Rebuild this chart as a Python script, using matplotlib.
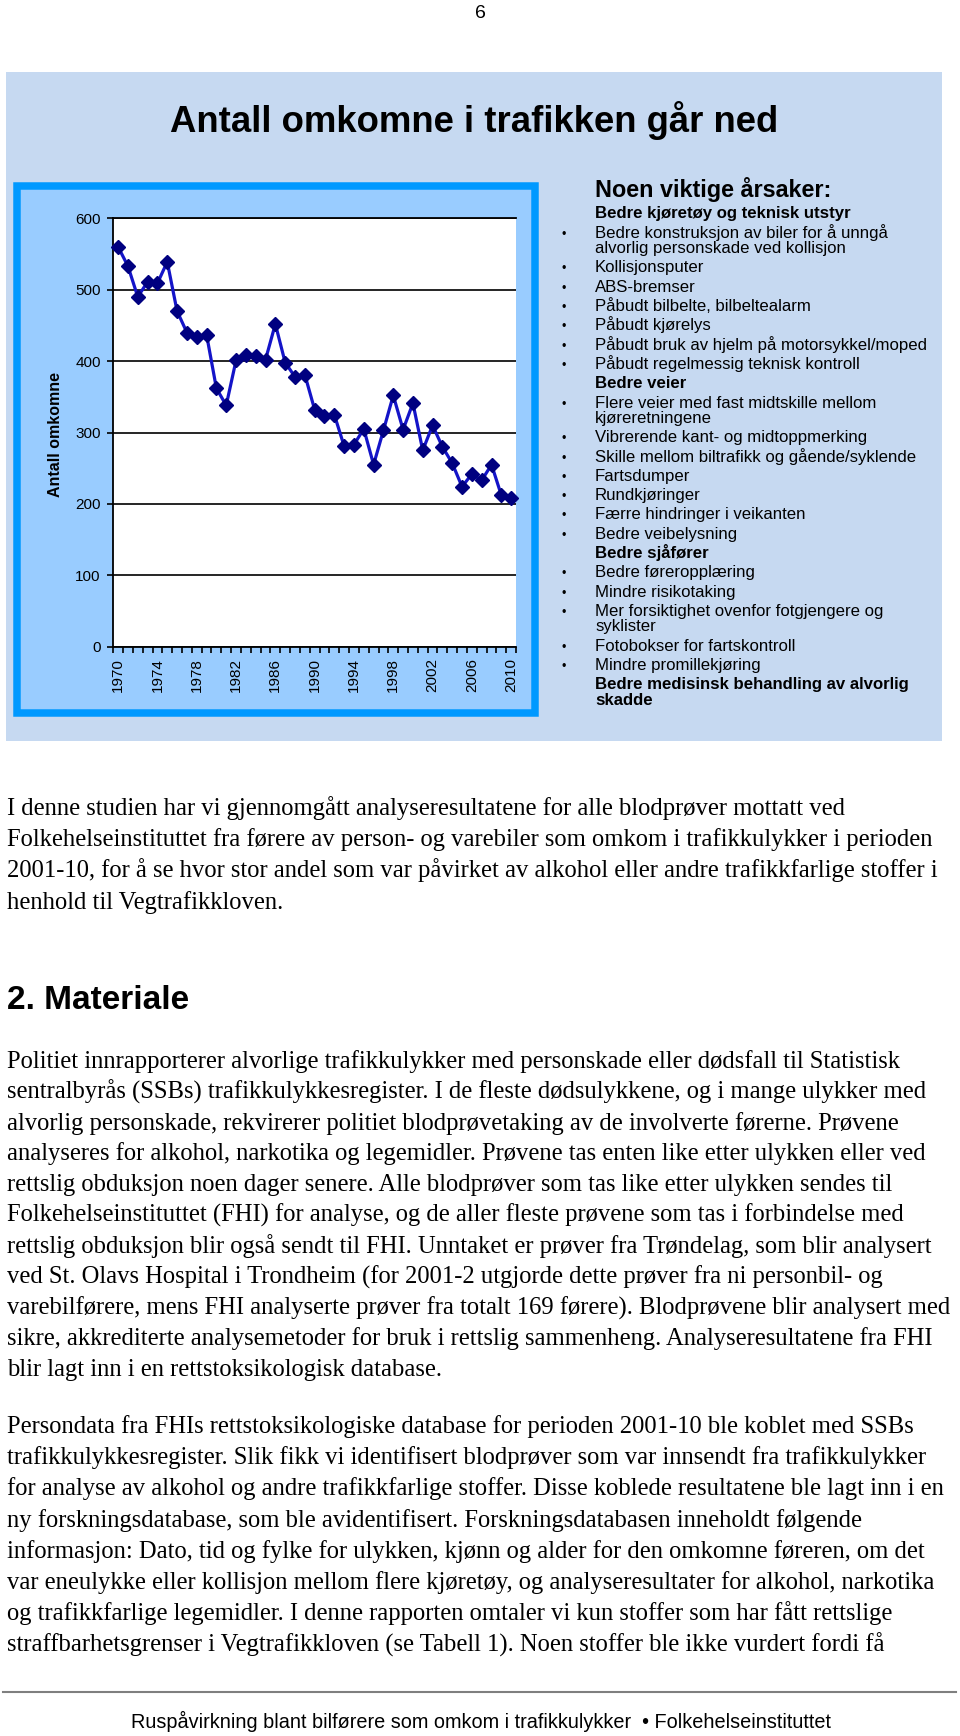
import matplotlib
matplotlib.use("Agg")
import numpy as np
import matplotlib.pyplot as plt
from matplotlib.patches import Rectangle
from matplotlib.lines import Line2D

# Antall omkomne i trafikken per år
years = list(range(1970, 2011))
omkomne = [560, 533, 490, 511, 509, 539, 470, 440, 434, 437,
           362, 338, 401, 409, 407, 402, 452, 398, 378, 381,
           332, 323, 325, 281, 283, 305, 255, 303, 352, 304,
           341, 275, 310, 280, 257, 224, 242, 233, 255, 212, 208]
y_ticks = [0, 100, 200, 300, 400, 500, 600]
x_labels = [str(y) for y in years[::4]]

title = "Antall omkomne i trafikken går ned"
ylabel = "Antall omkomne"
arsaker_tittel = "Noen viktige årsaker:"
# (overskrift?, linjer)
arsaker = [
    (True, ["Bedre kjøretøy og teknisk utstyr"]),
    (False, ["Bedre konstruksjon av biler for å unngå", "alvorlig personskade ved kollisjon"]),
    (False, ["Kollisjonsputer"]),
    (False, ["ABS-bremser"]),
    (False, ["Påbudt bilbelte, bilbeltealarm"]),
    (False, ["Påbudt kjørelys"]),
    (False, ["Påbudt bruk av hjelm på motorsykkel/moped"]),
    (False, ["Påbudt regelmessig teknisk kontroll"]),
    (True, ["Bedre veier"]),
    (False, ["Flere veier med fast midtskille mellom", "kjøreretningene"]),
    (False, ["Vibrerende kant- og midtoppmerking"]),
    (False, ["Skille mellom biltrafikk og gående/syklende"]),
    (False, ["Fartsdumper"]),
    (False, ["Rundkjøringer"]),
    (False, ["Færre hindringer i veikanten"]),
    (False, ["Bedre veibelysning"]),
    (True, ["Bedre sjåfører"]),
    (False, ["Bedre føreropplæring"]),
    (False, ["Mindre risikotaking"]),
    (False, ["Mer forsiktighet ovenfor fotgjengere og", "syklister"]),
    (False, ["Fotobokser for fartskontroll"]),
    (False, ["Mindre promillekjøring"]),
    (True, ["Bedre medisinsk behandling av alvorlig", "skadde"]),
]

para1 = [
    "I denne studien har vi gjennomgått analyseresultatene for alle blodprøver mottatt ved",
    "Folkehelseinstituttet fra førere av person- og varebiler som omkom i trafikkulykker i perioden",
    "2001-10, for å se hvor stor andel som var påvirket av alkohol eller andre trafikkfarlige stoffer i",
    "henhold til Vegtrafikkloven.",
]
heading2 = "2. Materiale"
para2 = [
    "Politiet innrapporterer alvorlige trafikkulykker med personskade eller dødsfall til Statistisk",
    "sentralbyrås (SSBs) trafikkulykkesregister. I de fleste dødsulykkene, og i mange ulykker med",
    "alvorlig personskade, rekvirerer politiet blodprøvetaking av de involverte førerne. Prøvene",
    "analyseres for alkohol, narkotika og legemidler. Prøvene tas enten like etter ulykken eller ved",
    "rettslig obduksjon noen dager senere. Alle blodprøver som tas like etter ulykken sendes til",
    "Folkehelseinstituttet (FHI) for analyse, og de aller fleste prøvene som tas i forbindelse med",
    "rettslig obduksjon blir også sendt til FHI. Unntaket er prøver fra Trøndelag, som blir analysert",
    "ved St. Olavs Hospital i Trondheim (for 2001-2 utgjorde dette prøver fra ni personbil- og",
    "varebilførere, mens FHI analyserte prøver fra totalt 169 førere). Blodprøvene blir analysert med",
    "sikre, akkrediterte analysemetoder for bruk i rettslig sammenheng. Analyseresultatene fra FHI",
    "blir lagt inn i en rettstoksikologisk database.",
]
para3 = [
    "Persondata fra FHIs rettstoksikologiske database for perioden 2001-10 ble koblet med SSBs",
    "trafikkulykkesregister. Slik fikk vi identifisert blodprøver som var innsendt fra trafikkulykker",
    "for analyse av alkohol og andre trafikkfarlige stoffer. Disse koblede resultatene ble lagt inn i en",
    "ny forskningsdatabase, som ble avidentifisert. Forskningsdatabasen inneholdt følgende",
    "informasjon: Dato, tid og fylke for ulykken, kjønn og alder for den omkomne føreren, om det",
    "var eneulykke eller kollisjon mellom flere kjøretøy, og analyseresultater for alkohol, narkotika",
    "og trafikkfarlige legemidler. I denne rapporten omtaler vi kun stoffer som har fått rettslige",
    "straffbarhetsgrenser i Vegtrafikkloven (se Tabell 1). Noen stoffer ble ikke vurdert fordi få",
]
footer = "Ruspåvirkning blant bilførere som omkom i trafikkulykker  \u2022 Folkehelseinstituttet"
page_no = "6"

W, H = 960, 1736
SANS = "Liberation Sans"
SERIF = "Liberation Serif"


def px(x, y):
    """piksler fra øvre venstre hjørne -> figurkoordinater"""
    return x / W, 1 - y / H


def rect(x0, y0, x1, y1, **kw):
    l, t = px(x0, y0)
    r, b = px(x1, y1)
    return Rectangle((l, b), r - l, t - b, transform=fig.transFigure, **kw)


fig = plt.figure(figsize=(W / 100, H / 100), dpi=100)
fig.patch.set_facecolor("white")

fig.text(*px(480, 17.5), page_no, family=SANS, fontsize=14, ha="center", va="baseline")

# lyseblått panel bak figuren
fig.add_artist(rect(6, 72, 942, 741, facecolor="#C6D9F1", edgecolor="none", zorder=-20))
fig.text(*px(474, 131.5), title, family=SANS, fontsize=26.3, fontweight="bold",
         ha="center", va="baseline")

# diagramramme
bw = 7.5
fig.add_artist(rect(13 + bw / 2, 182 + bw / 2, 538.5 - bw / 2, 716.5 - bw / 2,
                    facecolor="#99CCFF", edgecolor="#0099FF", linewidth=bw * 0.72,
                    zorder=-10))

l, t = px(113.2, 218.3)
r, b = px(516.1, 646.7)
ax = fig.add_axes([l, b, r - l, t - b])
ax.set_facecolor("white")
x = np.arange(len(years))
ax.plot(x, omkomne, color="#1414C8", lw=2.3, marker="D", ms=7.2,
        mfc="#000080", mec="#000080", zorder=3, clip_on=False)
ax.set_xlim(-0.5, len(years) - 0.5)
ax.set_ylim(0, 600)
ax.set_yticks(y_ticks)
ax.set_yticklabels([str(v) for v in y_ticks], family=SANS, fontsize=11)
ax.yaxis.grid(True, color="black", lw=1.2)
ax.set_axisbelow(True)
ax.set_xticks(np.arange(-0.5, len(years), 1))
ax.set_xticklabels([])
ax.set_xticks(x[::4], minor=True)
ax.set_xticklabels(x_labels, minor=True, rotation=90, family=SANS, fontsize=11)
ax.tick_params(axis="x", which="major", length=4, width=1.2, direction="out")
ax.tick_params(axis="x", which="minor", length=0, pad=8)
ax.tick_params(axis="y", length=4.5, width=1.2, pad=4.5)
ax.spines["right"].set_visible(False)
for side in ["left", "bottom", "top"]:
    ax.spines[side].set_linewidth(1.3)
fig.text(*px(55.5, 434.5), ylabel, family=SANS, fontsize=11.5, fontweight="bold",
         rotation=90, ha="center", va="center")

# årsaksliste til høyre
fig.text(*px(595, 196.7), arsaker_tittel, family=SANS, fontsize=16.8, fontweight="bold",
         va="baseline")
yb = 218.3
for i, (head, lines) in enumerate(arsaker):
    if i > 0:
        yb += 19.3
    if not head:
        fig.text(*px(561, yb), "\u2022", family=SANS, fontsize=9, va="baseline")
    for j, line in enumerate(lines):
        if j > 0:
            yb += 15.5
        fig.text(*px(595, yb), line, family=SANS, fontsize=12.1,
                 fontweight="bold" if head else "normal", va="baseline")


# brødtekst
def paragraph(lines, y0, pitch=31.2):
    for k, line in enumerate(lines):
        fig.text(*px(7, y0 + k * pitch), line, family=SERIF, fontsize=17.7, va="baseline")


paragraph(para1, 815)
fig.text(*px(7, 1009), heading2, family=SANS, fontsize=24, fontweight="bold", va="baseline")
paragraph(para2, 1068, 30.8)
paragraph(para3, 1433)

fig.add_artist(Line2D([3 / W, 956 / W], [1 - 1692 / H] * 2, transform=fig.transFigure,
                      color="#7F7F7F", lw=1.5))
fig.text(*px(481, 1728), footer, family=SANS, fontsize=14.3, ha="center", va="baseline")

fig.savefig("out.png", dpi=100)
